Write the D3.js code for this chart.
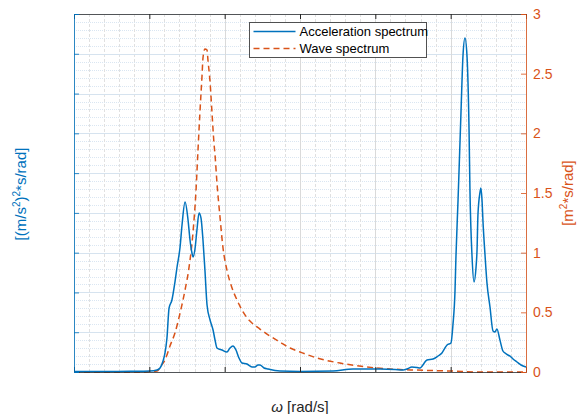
<!doctype html>
<html>
<head>
<meta charset="UTF-8" />
<title>spectra</title>
<script src="https://d3js.org/d3.v7.min.js"></script>
<style>
  body { margin: 0; background: #fff; }
  text { font-family: "Liberation Sans", Arial, sans-serif; }
</style>
</head>
<body>
<div id="chart"></div>
<script>
// acceleration spectrum (left axis), omega in rad/s
const accW = [0, 0.173, 0.372, 0.504, 0.551, 0.571, 0.591, 0.604, 0.617, 0.631, 0.650, 0.670, 0.684, 0.704, 0.717,
  0.737, 0.757, 0.770, 0.783, 0.790, 0.803, 0.816, 0.830, 0.843, 0.856, 0.869, 0.883, 0.903, 0.923, 0.936, 0.949,
  0.982, 1.015, 1.035, 1.055, 1.075, 1.095, 1.115, 1.148, 1.181, 1.201, 1.221, 1.234, 1.261, 1.288, 1.334, 1.367,
  1.500, 1.719, 1.852, 1.945, 2.031, 2.131, 2.184, 2.210, 2.243, 2.277, 2.296, 2.343, 2.383, 2.416, 2.442, 2.462,
  2.476, 2.502, 2.515, 2.529, 2.535, 2.549, 2.569, 2.582, 2.595, 2.608, 2.622, 2.628, 2.642, 2.655, 2.668, 2.675,
  2.681, 2.695, 2.701, 2.708, 2.715, 2.728, 2.741, 2.761, 2.781, 2.794, 2.807, 2.827, 2.847, 2.861, 2.880, 2.894,
  2.914, 2.940, 2.967, 3.000];
const accS = [0.013, 0.013, 0.018, 0.025, 0.05, 0.10, 0.277, 0.478, 0.855, 1.609, 1.810, 2.262, 2.640, 3.142, 3.695,
  4.273, 3.820, 3.318, 2.991, 2.891, 3.092, 3.570, 3.997, 3.871, 3.318, 2.564, 1.684, 1.307, 1.056, 0.804, 0.603,
  0.553, 0.503, 0.603, 0.654, 0.553, 0.352, 0.226, 0.201, 0.126, 0.126, 0.176, 0.176, 0.100, 0.075, 0.038, 0.025,
  0.013, 0.025, 0.075, 0.075, 0.075, 0.063, 0.050, 0.075, 0.126, 0.113, 0.100, 0.302, 0.327, 0.402, 0.478, 0.603,
  0.679, 0.729, 1.181, 2.061, 2.891, 4.324, 6.586, 7.969, 8.396, 7.969, 6.083, 4.575, 2.891, 2.262, 2.614, 3.067,
  3.947, 4.525, 4.626, 4.324, 3.746, 2.941, 2.237, 1.634, 1.031, 1.006, 1.081, 0.804, 0.528, 0.478, 0.427, 0.402,
  0.327, 0.251, 0.176, 0.126];

// wave spectrum (right axis)
const waveW = [0, 0.438, 0.504, 0.551, 0.577, 0.604, 0.637, 0.670, 0.704, 0.737, 0.763, 0.790, 0.810, 0.823, 0.836,
  0.850, 0.856, 0.869, 0.883, 0.889, 0.903, 0.916, 0.929, 0.936, 0.949, 0.969, 0.989, 1.015, 1.049, 1.082, 1.122,
  1.168, 1.234, 1.281, 1.367, 1.434, 1.500, 1.613, 1.765, 1.945, 2.164, 2.250, 2.509, 2.695, 3.000];
const waveS = [0, 0, 0.004, 0.008, 0.050, 0.101, 0.218, 0.327, 0.494, 0.687, 0.872, 1.173, 1.525, 1.860, 2.179,
  2.489, 2.631, 2.707, 2.698, 2.615, 2.430, 2.170, 1.919, 1.819, 1.584, 1.299, 1.039, 0.855, 0.704, 0.603, 0.503,
  0.427, 0.360, 0.318, 0.251, 0.201, 0.168, 0.117, 0.075, 0.042, 0.021, 0.017, 0.008, 0, 0];

const rightTicks = [0, 0.5, 1, 1.5, 2, 2.5, 3];
const seriesNames = ["Acceleration spectrum", "Wave spectrum"];

const W = 581, H = 414;
const mLeft = 74, mRight = 526, mTop = 14, mBottom = 372;
const blue = "#0072BD", orange = "#D95319", dark = "#262626";

const x = d3.scaleLinear().domain([0, 3]).range([mLeft, mRight]);
const yL = d3.scaleLinear().domain([0, 9]).range([mBottom, mTop]);
const yR = d3.scaleLinear().domain([0, 3]).range([mBottom, mTop]);

const svg = d3.select("#chart").append("svg")
  .attr("width", W).attr("height", H);

// grid
const g = svg.append("g");
const xMinor = d3.range(0, 3.0001, 0.1), xMajor = d3.range(0, 3.0001, 0.5);
const yMinor = d3.range(0, 9.0001, 0.2), yMajor = d3.range(0, 9.0001, 1);
g.selectAll(".hmin").data(yMinor).join("line")
  .attr("x1", mLeft).attr("x2", mRight)
  .attr("y1", d => Math.round(yL(d)) + 0.5).attr("y2", d => Math.round(yL(d)) + 0.5)
  .attr("stroke", "#dae6f2").attr("stroke-width", 1).attr("stroke-dasharray", "1,1");
g.selectAll(".vmin").data(xMinor).join("line")
  .attr("y1", mTop).attr("y2", mBottom)
  .attr("x1", d => Math.round(x(d)) + 0.5).attr("x2", d => Math.round(x(d)) + 0.5)
  .attr("stroke", "#e0e0e0").attr("stroke-width", 1).attr("stroke-dasharray", "3,2");
g.selectAll(".hmaj").data(yMajor).join("line")
  .attr("x1", mLeft).attr("x2", mRight)
  .attr("y1", d => Math.round(yL(d)) + 0.5).attr("y2", d => Math.round(yL(d)) + 0.5)
  .attr("stroke", "#d6e3ef").attr("stroke-width", 1);
g.selectAll(".vmaj").data(xMajor).join("line")
  .attr("y1", mTop).attr("y2", mBottom)
  .attr("x1", d => Math.round(x(d)) + 0.5).attr("x2", d => Math.round(x(d)) + 0.5)
  .attr("stroke", "#dadada").attr("stroke-width", 1);

// curves
const accData = accW.map((w, i) => [w, accS[i]]);
const waveData = waveW.map((w, i) => [w, waveS[i]]);

svg.append("path").datum(waveData)
  .attr("fill", "none").attr("stroke", orange).attr("stroke-width", 1.5)
  .attr("stroke-dasharray", "6,4")
  .attr("d", d3.line().x(d => x(d[0])).y(d => yR(d[1])).curve(d3.curveMonotoneX));

svg.append("path").datum(accData)
  .attr("fill", "none").attr("stroke", blue).attr("stroke-width", 1.5)
  .attr("d", d3.line().x(d => x(d[0])).y(d => yL(d[1])).curve(d3.curveMonotoneX));

// axes
const bottomAx = svg.append("g").attr("transform", `translate(0,${mBottom})`)
  .call(d3.axisBottom(x).tickValues(xMajor).tickSize(-5).tickFormat(""));
const topAx = svg.append("g").attr("transform", `translate(0,${mTop})`)
  .call(d3.axisTop(x).tickValues(xMajor).tickSize(-5).tickFormat(""));
[bottomAx, topAx].forEach(a => {
  a.select(".domain").attr("stroke", dark).attr("stroke-opacity", 0.75);
  a.selectAll(".tick line").attr("stroke", dark);
});

const leftAx = svg.append("g").attr("transform", `translate(${mLeft},0)`)
  .call(d3.axisLeft(yL).tickValues(yMajor).tickSize(-5).tickFormat(""));
leftAx.select(".domain").attr("stroke", blue).attr("stroke-opacity", 0.8);
leftAx.selectAll(".tick line").attr("stroke", blue).attr("stroke-opacity", 0.8);

const rightAx = svg.append("g").attr("transform", `translate(${mRight},0)`)
  .call(d3.axisRight(yR).tickValues(rightTicks).tickSize(-5).tickPadding(7).tickFormat(d3.format("")));
rightAx.select(".domain").attr("stroke", orange).attr("stroke-opacity", 0.8);
rightAx.selectAll(".tick line").attr("stroke", orange).attr("stroke-opacity", 0.8);
rightAx.selectAll(".tick text").attr("fill", orange)
  .style("font-size", "14px").style("font-family", "'Liberation Sans', Arial, sans-serif");

// axis labels
svg.append("text")
  .attr("transform", `translate(26,194) rotate(-90)`)
  .attr("text-anchor", "middle").attr("fill", blue).style("font-size", "15px")
  .html('[(m/s<tspan dy="-6" font-size="10px">2</tspan><tspan dy="6">)</tspan><tspan dy="-6" font-size="10px">2</tspan><tspan dy="6">*s/rad]</tspan>');

svg.append("text")
  .attr("transform", `translate(573,193) rotate(-90)`)
  .attr("text-anchor", "middle").attr("fill", orange).style("font-size", "15px")
  .html('[m<tspan dy="-6" font-size="10px">2</tspan><tspan dy="6">*s/rad]</tspan>');

svg.append("text")
  .attr("x", 300).attr("y", 412)
  .attr("text-anchor", "middle").attr("fill", dark).style("font-size", "15px")
  .html('<tspan font-style="italic">ω</tspan> [rad/s]');

// legend
const lg = svg.append("g").attr("transform", "translate(249.5,22.5)");
lg.append("rect").attr("width", 177).attr("height", 35)
  .attr("fill", "#fff").attr("stroke", dark).attr("stroke-opacity", 0.8);
const items = lg.selectAll(".item").data(seriesNames).join("g")
  .attr("transform", (d, i) => `translate(0,${9 + i * 17})`);
items.append("line").attr("x1", 4).attr("x2", 46)
  .attr("stroke", (d, i) => i === 0 ? blue : orange).attr("stroke-width", 1.5)
  .attr("stroke-dasharray", (d, i) => i === 0 ? null : "6,4");
items.append("text").attr("x", 50).attr("y", 4.5)
  .attr("fill", "#000").style("font-size", "13px").text(d => d);
</script>
</body>
</html>
